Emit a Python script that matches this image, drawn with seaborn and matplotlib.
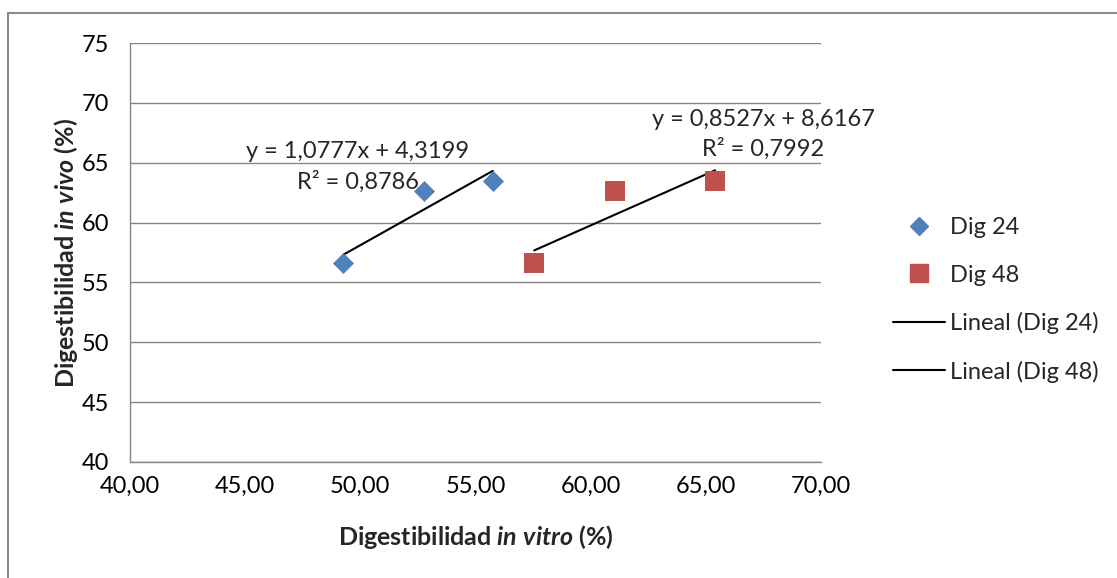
import numpy as np
import pandas as pd
import matplotlib
matplotlib.use("Agg")
import matplotlib.pyplot as plt
from matplotlib.lines import Line2D
from matplotlib.patches import Rectangle
import seaborn as sns

# datos
series = ["Dig 24", "Dig 48"]
dig24_vitro = [49.25, 52.75, 55.75]
dig24_vivo = [56.6, 62.6, 63.5]
dig48_vitro = [57.55, 61.05, 65.4]
dig48_vivo = [56.6, 62.6, 63.5]
ecuaciones = ["y = 1,0777x + 4,3199", "y = 0,8527x + 8,6167"]
r2 = ["R² = 0,8786", "R² = 0,7992"]
x_ticks = [40, 45, 50, 55, 60, 65, 70]
y_ticks = [40, 45, 50, 55, 60, 65, 70, 75]

colores = {"Dig 24": "#4F81BD", "Dig 48": "#C0504D"}
marcas = {"Dig 24": "D", "Dig 48": "s"}
tam = {"Dig 24": 115, "Dig 48": 205}

df = pd.DataFrame({
    "vitro": dig24_vitro + dig48_vitro,
    "vivo": dig24_vivo + dig48_vivo,
    "serie": ["Dig 24"] * 3 + ["Dig 48"] * 3,
})

sns.set_style("white")
plt.rcParams["font.family"] = ["Lato", "DejaVu Sans"]
plt.rcParams["mathtext.fontset"] = "custom"
plt.rcParams["mathtext.rm"] = "Lato"
plt.rcParams["mathtext.bf"] = "Lato:bold"
plt.rcParams["mathtext.it"] = "Lato:italic"
plt.rcParams["mathtext.bfit"] = "Lato:bold:italic"

W, H = 1117, 578
fs = 17
fig = plt.figure(figsize=(W / 100, H / 100), dpi=100)
ax = fig.add_axes([130 / W, 1 - 462 / H, (821 - 130) / W, (462 - 43) / H])

gris = "#868686"
ax.set_axisbelow(True)
ax.grid(axis="y", color=gris, lw=1.0)
ax.grid(axis="x", visible=False)

for s in series:
    sub = df[df["serie"] == s]
    sns.regplot(data=sub, x="vitro", y="vivo", scatter=False, ci=None, truncate=True,
                ax=ax, line_kws={"color": "black", "lw": 1.5, "zorder": 2})

for s in series:
    sub = df[df["serie"] == s]
    sns.scatterplot(data=sub, x="vitro", y="vivo", color=colores[s], marker=marcas[s],
                    s=tam[s], linewidth=0, legend=False, ax=ax, zorder=3)

ax.set_xlim(40, 70)
ax.set_ylim(40, 75)
ax.set_xticks(x_ticks)
ax.set_yticks(y_ticks)
ax.set_xticklabels([f"{v:.2f}".replace(".", ",") for v in x_ticks])
ax.set_yticklabels([str(v) for v in y_ticks])
ax.tick_params(axis="both", labelsize=fs, color=gris, width=1.0, length=5,
               direction="out", colors="black")
ax.tick_params(axis="x", pad=5)
ax.tick_params(axis="y", pad=10)
for lado in ["top", "right"]:
    ax.spines[lado].set_visible(False)
for lado in ["left", "bottom"]:
    ax.spines[lado].set_color(gris)
    ax.spines[lado].set_linewidth(1.0)

ax.set_xlabel(r"Digestibilidad $\mathbfit{in\ vitro}$ (%)", fontsize=18,
              fontweight="bold", labelpad=19)
ax.set_ylabel(r"Digestibilidad $\mathbfit{in\ vivo}$ (%)", fontsize=18,
              fontweight="bold")
ax.yaxis.set_label_coords(-0.072, 0.5)

# ecuaciones de las líneas de tendencia
ax.text(49.88, 65.9, ecuaciones[0], fontsize=fs, ha="center", va="center")
ax.text(49.88, 63.4, r2[0], fontsize=fs, ha="center", va="center")
ax.text(67.49, 68.65, ecuaciones[1], fontsize=fs, ha="center", va="center")
ax.text(67.47, 66.15, r2[1], fontsize=fs, ha="center", va="center")

handles = [
    Line2D([], [], ls="none", marker="D", color=colores["Dig 24"], markersize=9.2),
    Line2D([], [], ls="none", marker="s", color=colores["Dig 48"], markersize=13),
    Line2D([], [], color="black", lw=1.5),
    Line2D([], [], color="black", lw=1.5),
]
etiquetas = series + ["Lineal (Dig 24)", "Lineal (Dig 48)"]
fig.legend(handles, etiquetas, loc="center left", bbox_to_anchor=(893 / W, 1 - 300 / H),
           frameon=False, fontsize=fs, handlelength=2.2, handletextpad=0.2,
           labelspacing=1.12, borderpad=0, borderaxespad=0)

fig.add_artist(Rectangle((8 / W, -0.1), 1.2, 1 - 13 / H + 0.1, transform=fig.transFigure,
                         fill=False, edgecolor="#8c8c8c", lw=1.5))

fig.savefig("out.png", dpi=100)
